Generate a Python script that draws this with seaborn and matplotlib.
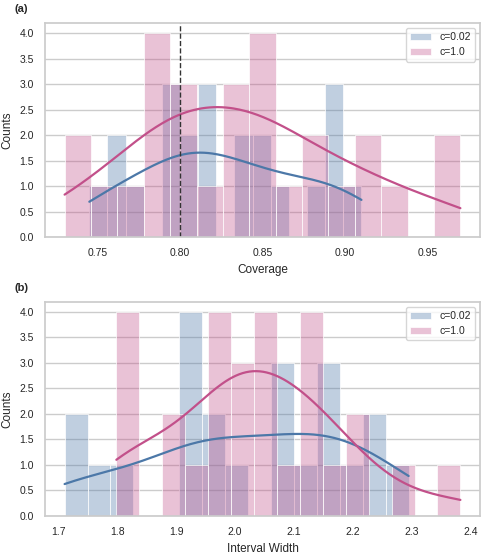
import matplotlib
matplotlib.use("Agg")
import matplotlib.pyplot as plt
import seaborn as sns

# coverage values per run
coverage_c002 = [0.745, 0.757, 0.761, 0.769, 0.790, 0.794, 0.798, 0.803, 0.807,
                 0.812, 0.816, 0.821, 0.836, 0.841, 0.848, 0.853, 0.861, 0.880,
                 0.890, 0.894, 0.897, 0.910]
coverage_c1 = [0.730, 0.736, 0.755, 0.772, 0.784, 0.787, 0.790, 0.793, 0.799,
               0.803, 0.807, 0.819, 0.829, 0.833, 0.837, 0.844, 0.847, 0.851,
               0.854, 0.864, 0.878, 0.883, 0.896, 0.909, 0.914, 0.928, 0.958,
               0.970]

# interval widths per run
width_c002 = [1.710, 1.730, 1.770, 1.805, 1.912, 1.920, 1.928, 1.936, 1.955,
              1.970, 2.000, 2.070, 2.080, 2.090, 2.120, 2.150, 2.160, 2.170,
              2.200, 2.230, 2.245, 2.295]
width_c1 = [1.798, 1.808, 1.818, 1.828, 1.885, 1.900, 1.940, 1.962, 1.970,
            1.978, 1.986, 2.002, 2.013, 2.024, 2.040, 2.048, 2.055, 2.062,
            2.085, 2.115, 2.122, 2.130, 2.138, 2.160, 2.195, 2.205, 2.280,
            2.383]

target = 0.8
labels = ["c=0.02", "c=1.0"]
colors = ["#4C78A8", "#C2508A"]

sns.set_theme(style="whitegrid")
plt.rcParams["font.family"] = ["Liberation Sans", "DejaVu Sans"]

fig, axes = plt.subplots(2, 1, figsize=(4.87, 5.56), dpi=100)
fig.subplots_adjust(left=0.092, right=0.986, top=0.959, bottom=0.072, hspace=0.30)

panels = [
    ("(a)", "Coverage", [coverage_c002, coverage_c1]),
    ("(b)", "Interval Width", [width_c002, width_c1]),
]

for ax, (tag, xlabel, series) in zip(axes, panels):
    for vals, lab, col in zip(series, labels, colors):
        sns.histplot(vals, bins=15, kde=True, color=col, alpha=0.35,
                     linewidth=0.5, label=lab, ax=ax,
                     line_kws={"linewidth": 1.6})
    ax.grid(axis="x", visible=False)
    ax.set_xlabel(xlabel, fontsize=8.5)
    ax.set_ylabel("Counts", fontsize=8.5)
    ax.tick_params(labelsize=7.5, pad=2)
    ax.legend(loc="upper right", fontsize=7.5)
    ax.text(-0.07, 1.04, tag, transform=ax.transAxes, fontsize=8,
            fontweight="bold", ha="left", va="bottom")

axes[0].axvline(target, color="#333333", linestyle="--", linewidth=1)

fig.savefig("out.png", dpi=100)
